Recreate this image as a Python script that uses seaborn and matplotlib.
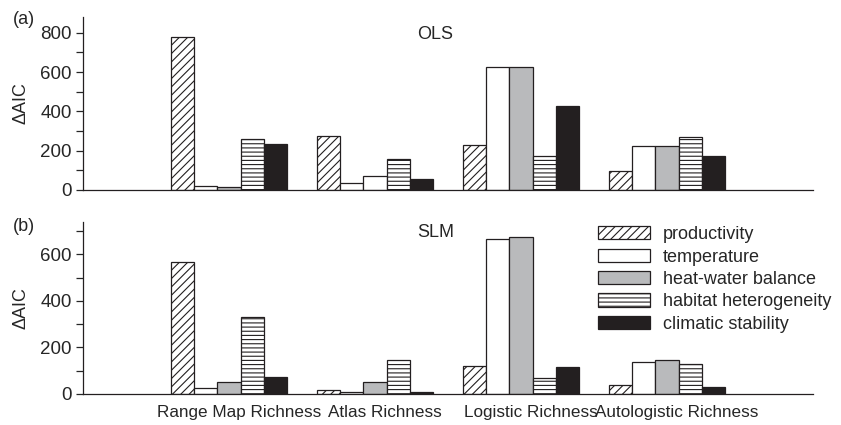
import pandas as pd
import numpy as np
import matplotlib
matplotlib.use("Agg")
import matplotlib.pyplot as plt
import matplotlib.transforms as mtransforms
from matplotlib.patches import Patch
from matplotlib.ticker import MultipleLocator
import seaborn as sns

# ---------------------------------------------------------
# Data
# ---------------------------------------------------------
responses = ["Range Map Richness", "Atlas Richness", "Logistic Richness", "Autologistic Richness"]
predictors = ["productivity", "temperature", "heat-water balance",
              "habitat heterogeneity", "climatic stability"]

# OLS, one list per predictor (values per response)
ols_productivity = [780, 277, 231, 99]
ols_temperature = [22, 33, 627, 224]
ols_heat_water = [15, 70, 628, 224]
ols_habitat = [257, 158, 172, 267]
ols_climatic = [233, 58, 427, 172]

# SLM
slm_productivity = [568, 15, 119, 39]
slm_temperature = [26, 10, 667, 138]
slm_heat_water = [52, 50, 674, 146]
slm_habitat = [333, 148, 69, 129]
slm_climatic = [73, 7, 116, 29]

ols_values = [ols_productivity, ols_temperature, ols_heat_water, ols_habitat, ols_climatic]
slm_values = [slm_productivity, slm_temperature, slm_heat_water, slm_habitat, slm_climatic]


def to_long(values):
    rows = []
    for pred, vals in zip(predictors, values):
        for resp, v in zip(responses, vals):
            rows.append({"response": resp, "predictor": pred, "dAIC": v})
    return pd.DataFrame(rows)


df_ols = to_long(ols_values)
df_slm = to_long(slm_values)

# bar styling per predictor
face = {"productivity": "white", "temperature": "white",
        "heat-water balance": "#b9babc", "habitat heterogeneity": "white",
        "climatic stability": "#231f20"}
hatch = {"productivity": "////", "temperature": "",
         "heat-water balance": "", "habitat heterogeneity": "----",
         "climatic stability": ""}

# ---------------------------------------------------------
# Plot
# ---------------------------------------------------------
sns.set_style("ticks")
plt.rcParams["font.family"] = ["Liberation Sans", "DejaVu Sans"]
plt.rcParams["hatch.linewidth"] = 0.8
plt.rcParams["hatch.color"] = "#231f20"
FS = 13

fig = plt.figure(figsize=(8.41, 4.25), dpi=100)
ax_a = fig.add_axes([0.0987, 0.553, 0.868, 0.407])
ax_b = fig.add_axes([0.0987, 0.073, 0.868, 0.405])


def draw(ax, df, ymax):
    sns.barplot(data=df, x="response", y="dAIC", hue="predictor",
                order=responses, hue_order=predictors, ax=ax,
                palette=[face[p] for p in predictors], saturation=1,
                edgecolor="#231f20", linewidth=0.9, legend=False, width=0.8)
    for pred, cont in zip(predictors, ax.containers):
        for bar in cont:
            bar.set_facecolor(face[pred])
            bar.set_hatch(hatch[pred])
    ax.set_xlim(-1, 4)
    ax.set_ylim(0, ymax)
    ax.yaxis.set_major_locator(MultipleLocator(200))
    ax.yaxis.set_minor_locator(MultipleLocator(100))
    ax.tick_params(axis="y", which="major", length=5, width=0.9, labelsize=13.5, pad=3)
    ax.tick_params(axis="y", which="minor", length=5, width=0.9)
    ax.tick_params(axis="x", length=0, labelsize=12.3, pad=8)
    ax.set_xlabel("")
    ax.set_ylabel("ΔAIC", fontsize=FS)
    ax.yaxis.set_label_coords(-0.073, 0.5)
    for s in ["top", "right"]:
        ax.spines[s].set_visible(False)
    for s in ["left", "bottom"]:
        ax.spines[s].set_linewidth(0.9)
        ax.spines[s].set_color("#231f20")


draw(ax_a, df_ols, 880)
draw(ax_b, df_slm, 740)

# in panel (a) the heat-water bar of Atlas Richness is printed white
ax_a.containers[2][1].set_facecolor("white")

ax_a.set_xticklabels([])
offset = mtransforms.ScaledTranslation(0.10, 0, fig.dpi_scale_trans)
for lbl in ax_b.get_xticklabels():
    lbl.set_transform(lbl.get_transform() + offset)

fig.text(0.015, 0.953, "(a)", fontsize=FS, va="center", ha="left")
fig.text(0.015, 0.468, "(b)", fontsize=FS, va="center", ha="left")
fig.text(0.517, 0.918, "OLS", fontsize=FS, va="center", ha="center")
fig.text(0.518, 0.454, "SLM", fontsize=FS, va="center", ha="center")

handles = [Patch(facecolor=face[p], edgecolor="#231f20", hatch=hatch[p], linewidth=0.9)
           for p in predictors]
fig.legend(handles, predictors, loc="upper left", bbox_to_anchor=(0.711, 0.468),
           frameon=False, fontsize=FS, handlelength=2.9, handleheight=0.75,
           handletextpad=0.7, labelspacing=0.3, borderpad=0, borderaxespad=0)

fig.savefig("out.png", dpi=100)
